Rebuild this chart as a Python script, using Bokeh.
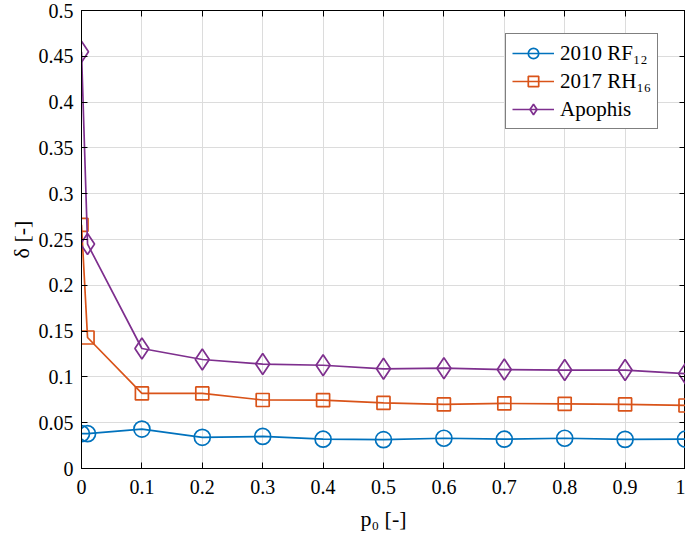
from bokeh.plotting import figure
from bokeh.models import FixedTicker, LinearAxis, Range1d, Legend, LegendItem, CustomLabelingPolicy
from bokeh.embed import file_html
from bokeh.resources import INLINE

# ---- data ----
p0 = [0.0, 0.01, 0.1, 0.2, 0.3, 0.4, 0.5, 0.6, 0.7, 0.8, 0.9, 1.0]
rf12 = [0.038, 0.038, 0.043, 0.034, 0.035, 0.032, 0.0315, 0.033, 0.032, 0.033, 0.0318, 0.032]
rh16 = [0.266, 0.143, 0.082, 0.082, 0.0748, 0.0746, 0.0716, 0.070, 0.071, 0.0706, 0.0700, 0.0688]
apophis = [0.455, 0.245, 0.131, 0.119, 0.114, 0.1127, 0.1088, 0.1095, 0.108, 0.1075, 0.1075, 0.1036]

x_ticks = [0, 0.1, 0.2, 0.3, 0.4, 0.5, 0.6, 0.7, 0.8, 0.9, 1.0]
x_tick_labels = ["0", "0.1", "0.2", "0.3", "0.4", "0.5", "0.6", "0.7", "0.8", "0.9", "1"]
y_ticks = [0, 0.05, 0.1, 0.15, 0.2, 0.25, 0.3, 0.35, 0.4, 0.45, 0.5]
y_tick_labels = ["0", "0.05", "0.1", "0.15", "0.2", "0.25", "0.3", "0.35", "0.4", "0.45", "0.5"]

series_names = ["2010 RF\u2081\u2082", "2017 RH\u2081\u2086", "Apophis"]
colors = ["#0072BD", "#D95319", "#7E2F8E"]

FONT = "Liberation Serif"

p = figure(width=685, height=535, output_backend="svg", toolbar_location=None,
           x_range=Range1d(0, 1), y_range=Range1d(0, 0.5),
           min_border_left=81, min_border_right=0, min_border_top=10, min_border_bottom=67)

p.outline_line_color = "black"
p.outline_line_width = 1
p.outline_line_alpha = 1

# box ticks on top and right (labels suppressed)
no_labels = CustomLabelingPolicy(code="""
if (typeof indices.clear === "function") { indices.clear() }
else { for (const i of Array.from(indices)) { indices.unset(i) } }
return indices
""")
p.add_layout(LinearAxis(major_label_policy=no_labels), "right")
p.add_layout(LinearAxis(major_label_policy=no_labels), "above")

for ax in p.axis:
    ax.major_tick_in = 6
    ax.major_tick_out = 0
    ax.minor_tick_in = 0
    ax.minor_tick_out = 0
    ax.axis_line_color = "black"
    ax.major_tick_line_color = "black"
    ax.major_label_text_font = FONT
    ax.major_label_text_font_size = "20px"
    ax.major_label_text_color = "black"
    ax.axis_label_text_font = FONT
    ax.axis_label_text_font_size = "22px"
    ax.axis_label_text_font_style = "normal"
    ax.axis_label_text_color = "black"

for ax in p.xaxis:
    ax.ticker = FixedTicker(ticks=x_ticks)
    ax.major_label_overrides = {t: s for t, s in zip(x_ticks, x_tick_labels)}
for ax in p.yaxis:
    ax.ticker = FixedTicker(ticks=y_ticks)
    ax.major_label_overrides = {t: s for t, s in zip(y_ticks, y_tick_labels)}

for ax in (p.right[0], p.above[0]):
    ax.major_label_text_font_size = "0px"
    ax.major_label_standoff = 0

p.below[0].major_label_standoff = 11
p.left[0].major_label_standoff = 8
p.below[0].axis_label = "p\u2080 [-]"
p.left[0].axis_label = "\u03b4 [-]"
p.below[0].axis_label_standoff = 9
p.left[0].axis_label_standoff = 2

p.xgrid.ticker = FixedTicker(ticks=x_ticks)
p.ygrid.ticker = FixedTicker(ticks=y_ticks)
for g in (p.xgrid[0], p.ygrid[0]):
    g.grid_line_color = "#dcdcdc"
    g.grid_line_width = 1
    g.grid_line_alpha = 1

l1 = p.line(p0, rf12, line_color=colors[0], line_width=1.7)
m1 = p.scatter(p0, rf12, marker="circle", size=16, fill_color=None,
               line_color=colors[0], line_width=1.7)
l2 = p.line(p0, rh16, line_color=colors[1], line_width=1.7)
m2 = p.scatter(p0, rh16, marker="square", size=13, fill_color=None,
               line_color=colors[1], line_width=1.7)
l3 = p.line(p0, apophis, line_color=colors[2], line_width=1.7)
m3 = p.scatter(p0, apophis, marker="diamond", size=21, fill_color=None,
               line_color=colors[2], line_width=1.7)
items = [LegendItem(label=series_names[0], renderers=[l1, m1]),
         LegendItem(label=series_names[1], renderers=[l2, m2]),
         LegendItem(label=series_names[2], renderers=[l3, m3])]

legend = Legend(items=items, location=(424, 339))
legend.label_text_font = FONT
legend.label_text_font_size = "21px"
legend.label_text_color = "black"
legend.border_line_color = "black"
legend.border_line_width = 1
legend.background_fill_alpha = 1
legend.glyph_width = 42
legend.glyph_height = 26
legend.label_height = 26
legend.spacing = 2
legend.padding = 6
legend.margin = 0
legend.label_standoff = 6
p.add_layout(legend, "center")

open("out.html", "w").write(file_html(p, INLINE))
